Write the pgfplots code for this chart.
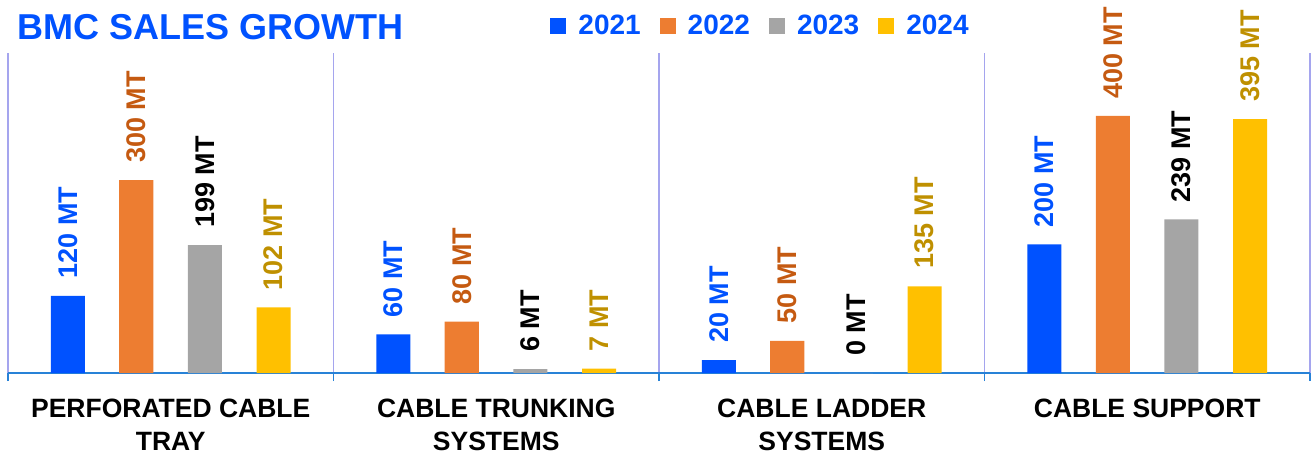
\documentclass[border=0pt]{standalone}
\usepackage{pgfplots}
\pgfplotsset{compat=1.18}
\usepackage{fontspec}
\setmainfont{Liberation Sans}
\usetikzlibrary{calc}
\definecolor{cblue}{RGB}{0,82,255}
\definecolor{corange}{RGB}{237,125,49}
\definecolor{cgray}{RGB}{165,165,165}
\definecolor{cyellow}{RGB}{255,192,0}
\definecolor{lorange}{RGB}{197,90,17}
\definecolor{lyellow}{RGB}{191,144,0}
\definecolor{axblue}{RGB}{40,130,215}
\definecolor{sepcol}{RGB}{165,165,238}
\begin{document}
\begin{tikzpicture}
\begin{axis}[
  scale only axis, width=651pt, height=160pt,
  xmin=-0.5, xmax=3.5, ymin=0, ymax=498,
  hide y axis,
  axis x line*=bottom,
  x axis line style={color=axblue, line width=0.8pt},
  xtick={0,1,2,3},
  xticklabels={{PERFORATED CABLE\\TRAY},{CABLE TRUNKING\\SYSTEMS},{CABLE LADDER\\SYSTEMS},{CABLE SUPPORT}},
  xticklabel style={font=\fontsize{13.25}{16.5}\selectfont\bfseries, align=center, inner sep=0pt, yshift=-13pt, text=black},
  major tick length=0pt,
  minor xtick={-0.5,0.5,1.5,2.5,3.5},
  minor tick length=4pt,
  tick align=outside,
  minor tick style={color=axblue, line width=0.6pt},
  xminorgrids=true,
  minor grid style={color=sepcol, line width=0.6pt},
  ybar, bar width=0.1045,
  nodes near coords={\pgfmathprintnumber{\pgfplotspointmeta} MT},
  every node near coord/.append style={rotate=90, anchor=west, inner xsep=8.5pt, inner ysep=0pt, font=\fontsize{13.5}{16}\selectfont\bfseries},
  /pgf/number format/assume math mode=true,
  legend style={draw=none, fill=none, at={(axis description cs:0.4163,1.085)}, anchor=west,
    inner sep=0pt, font=\fontsize{14}{16}\selectfont\bfseries, text=cblue,
    /tikz/every even column/.append style={column sep=7.5pt}},
  legend columns=4,
  legend image code/.code={\fill[#1] (0pt,-4pt) rectangle (8pt,4pt); \path (12pt,0pt);},
  clip=false,
]
\addplot[fill=cblue, draw=none, bar shift=-0.316, every node near coord/.append style={text=cblue}]
  coordinates {(0,120) (1,60) (2,20) (3,200)};
\addplot[fill=corange, draw=none, bar shift=-0.106, every node near coord/.append style={text=lorange}]
  coordinates {(0,300) (1,80) (2,50) (3,400)};
\addplot[fill=cgray, draw=none, bar shift=0.1045, every node near coord/.append style={text=black}]
  coordinates {(0,199) (1,6) (2,0) (3,239)};
\addplot[fill=cyellow, draw=none, bar shift=0.316, every node near coord/.append style={text=lyellow}]
  coordinates {(0,102) (1,7) (2,135) (3,395)};
\legend{2021,2022,2023,2024}
\end{axis}
\node[anchor=base west, inner sep=0pt, font=\fontsize{18}{20}\selectfont\bfseries, text=cblue]
  at ($(current axis.north west)+(4.7pt,6.5pt)$) {BMC SALES GROWTH};
\pgfresetboundingbox
\path ($(current axis.south west)+(-4pt,-41pt)$) rectangle ($(current axis.north east)+(2pt,26.5pt)$);
\end{tikzpicture}
\end{document}
